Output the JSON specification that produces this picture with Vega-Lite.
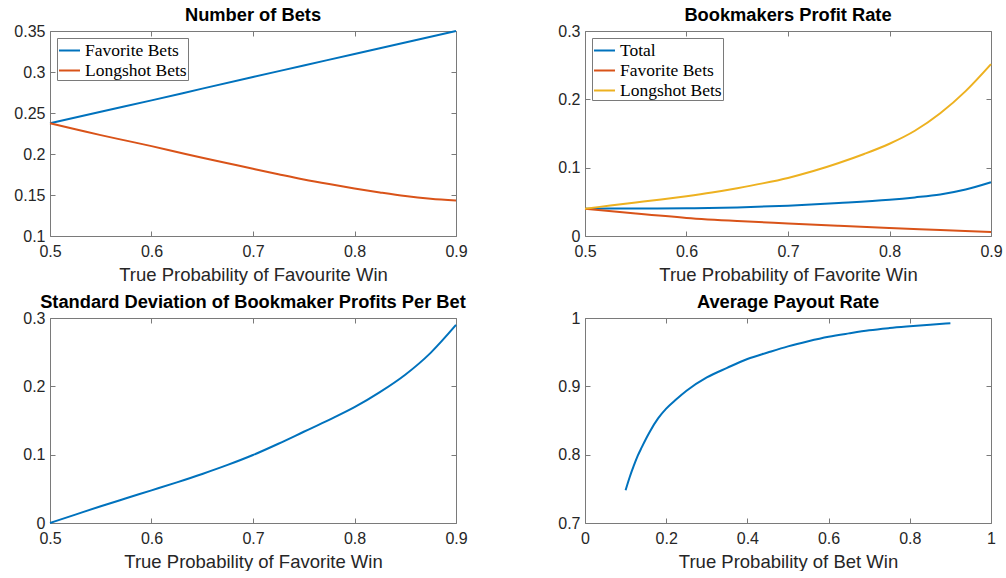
{
  "$schema": "https://vega.github.io/schema/vega-lite/v6.json",
  "padding": {"left": 13, "top": 5, "right": 0, "bottom": 0},
  "background": "white",
  "config": {
    "view": {"stroke": "#7a7a7a", "strokeWidth": 1},
    "font": "Liberation Sans",
    "axis": {
      "grid": false,
      "domain": false,
      "tickSize": -5,
      "tickColor": "#7a7a7a",
      "labelFont": "Liberation Sans",
      "labelFontSize": 16,
      "labelColor": "#262626",
      "labelFlush": false,
      "labelOverlap": false,
      "labelPadding": 10,
      "titleFont": "Liberation Sans",
      "titleFontSize": 18.5,
      "titleFontWeight": "normal",
      "titleColor": "#262626",
      "titlePadding": 6
    },
    "axisX": {"labelPadding": 12},
    "title": {"font": "Liberation Sans", "fontSize": 18.3, "fontWeight": "bold", "color": "#000000", "offset": -2},
    "legend": {
      "orient": "top-left",
      "offset": 7,
      "padding": 1,
      "strokeColor": "#7a7a7a",
      "fillColor": "white",
      "symbolType": "stroke",
      "symbolSize": 441,
      "symbolStrokeWidth": 2,
      "labelFont": "Liberation Serif",
      "labelFontSize": 17.5,
      "labelColor": "#000000",
      "labelOffset": 4,
      "rowPadding": 0,
      "title": null
    }
  },
  "datasets": {
    "bets": [
      {"p": 0.5, "value": 0.2375, "series": "Favorite Bets"},
      {"p": 0.55, "value": 0.2516, "series": "Favorite Bets"},
      {"p": 0.6, "value": 0.2654, "series": "Favorite Bets"},
      {"p": 0.65, "value": 0.2797, "series": "Favorite Bets"},
      {"p": 0.7, "value": 0.2939, "series": "Favorite Bets"},
      {"p": 0.75, "value": 0.3079, "series": "Favorite Bets"},
      {"p": 0.8, "value": 0.3220, "series": "Favorite Bets"},
      {"p": 0.85, "value": 0.3359, "series": "Favorite Bets"},
      {"p": 0.9, "value": 0.35, "series": "Favorite Bets"},
      {"p": 0.5, "value": 0.2375, "series": "Longshot Bets"},
      {"p": 0.525, "value": 0.2303, "series": "Longshot Bets"},
      {"p": 0.55, "value": 0.2230, "series": "Longshot Bets"},
      {"p": 0.575, "value": 0.2163, "series": "Longshot Bets"},
      {"p": 0.6, "value": 0.2096, "series": "Longshot Bets"},
      {"p": 0.625, "value": 0.2025, "series": "Longshot Bets"},
      {"p": 0.65, "value": 0.1954, "series": "Longshot Bets"},
      {"p": 0.675, "value": 0.1887, "series": "Longshot Bets"},
      {"p": 0.7, "value": 0.1820, "series": "Longshot Bets"},
      {"p": 0.725, "value": 0.1754, "series": "Longshot Bets"},
      {"p": 0.75, "value": 0.1690, "series": "Longshot Bets"},
      {"p": 0.775, "value": 0.1633, "series": "Longshot Bets"},
      {"p": 0.8, "value": 0.1580, "series": "Longshot Bets"},
      {"p": 0.825, "value": 0.1531, "series": "Longshot Bets"},
      {"p": 0.85, "value": 0.1487, "series": "Longshot Bets"},
      {"p": 0.875, "value": 0.1455, "series": "Longshot Bets"},
      {"p": 0.9, "value": 0.1434, "series": "Longshot Bets"}
    ],
    "profit": [
      {"p": 0.5, "value": 0.0400, "series": "Total"},
      {"p": 0.55, "value": 0.0402, "series": "Total"},
      {"p": 0.6, "value": 0.0406, "series": "Total"},
      {"p": 0.65, "value": 0.0418, "series": "Total"},
      {"p": 0.7, "value": 0.0443, "series": "Total"},
      {"p": 0.75, "value": 0.0482, "series": "Total"},
      {"p": 0.8, "value": 0.0530, "series": "Total"},
      {"p": 0.825, "value": 0.0565, "series": "Total"},
      {"p": 0.85, "value": 0.0608, "series": "Total"},
      {"p": 0.875, "value": 0.0680, "series": "Total"},
      {"p": 0.9, "value": 0.0786, "series": "Total"},
      {"p": 0.5, "value": 0.0400, "series": "Favorite Bets"},
      {"p": 0.55, "value": 0.0328, "series": "Favorite Bets"},
      {"p": 0.6, "value": 0.0265, "series": "Favorite Bets"},
      {"p": 0.65, "value": 0.0220, "series": "Favorite Bets"},
      {"p": 0.7, "value": 0.0184, "series": "Favorite Bets"},
      {"p": 0.75, "value": 0.0150, "series": "Favorite Bets"},
      {"p": 0.8, "value": 0.0118, "series": "Favorite Bets"},
      {"p": 0.85, "value": 0.0088, "series": "Favorite Bets"},
      {"p": 0.9, "value": 0.0058, "series": "Favorite Bets"},
      {"p": 0.5, "value": 0.0400, "series": "Longshot Bets"},
      {"p": 0.525, "value": 0.0445, "series": "Longshot Bets"},
      {"p": 0.55, "value": 0.0490, "series": "Longshot Bets"},
      {"p": 0.575, "value": 0.0535, "series": "Longshot Bets"},
      {"p": 0.6, "value": 0.0583, "series": "Longshot Bets"},
      {"p": 0.625, "value": 0.0637, "series": "Longshot Bets"},
      {"p": 0.65, "value": 0.0700, "series": "Longshot Bets"},
      {"p": 0.675, "value": 0.0770, "series": "Longshot Bets"},
      {"p": 0.7, "value": 0.0850, "series": "Longshot Bets"},
      {"p": 0.725, "value": 0.0950, "series": "Longshot Bets"},
      {"p": 0.75, "value": 0.1068, "series": "Longshot Bets"},
      {"p": 0.775, "value": 0.1200, "series": "Longshot Bets"},
      {"p": 0.8, "value": 0.1350, "series": "Longshot Bets"},
      {"p": 0.825, "value": 0.1540, "series": "Longshot Bets"},
      {"p": 0.85, "value": 0.1796, "series": "Longshot Bets"},
      {"p": 0.875, "value": 0.2120, "series": "Longshot Bets"},
      {"p": 0.9, "value": 0.2515, "series": "Longshot Bets"}
    ],
    "sd": [
      {"p": 0.5, "value": 0.0},
      {"p": 0.525, "value": 0.0123},
      {"p": 0.55, "value": 0.0245},
      {"p": 0.575, "value": 0.0362},
      {"p": 0.6, "value": 0.0478},
      {"p": 0.625, "value": 0.0595},
      {"p": 0.65, "value": 0.0718},
      {"p": 0.675, "value": 0.0850},
      {"p": 0.7, "value": 0.0995},
      {"p": 0.725, "value": 0.1160},
      {"p": 0.75, "value": 0.1335},
      {"p": 0.775, "value": 0.1510},
      {"p": 0.8, "value": 0.1695},
      {"p": 0.825, "value": 0.1915},
      {"p": 0.85, "value": 0.2170},
      {"p": 0.875, "value": 0.2490},
      {"p": 0.9, "value": 0.2898}
    ],
    "payout": [
      {"p": 0.1, "value": 0.748},
      {"p": 0.11, "value": 0.767},
      {"p": 0.12, "value": 0.7835},
      {"p": 0.13, "value": 0.7985},
      {"p": 0.14, "value": 0.8110},
      {"p": 0.15, "value": 0.8230},
      {"p": 0.16, "value": 0.8340},
      {"p": 0.18, "value": 0.8530},
      {"p": 0.2, "value": 0.8673},
      {"p": 0.225, "value": 0.8810},
      {"p": 0.25, "value": 0.8935},
      {"p": 0.3, "value": 0.9130},
      {"p": 0.35, "value": 0.9270},
      {"p": 0.4, "value": 0.9400},
      {"p": 0.45, "value": 0.9495},
      {"p": 0.5, "value": 0.9585},
      {"p": 0.55, "value": 0.9660},
      {"p": 0.6, "value": 0.9725},
      {"p": 0.65, "value": 0.9775},
      {"p": 0.7, "value": 0.9820},
      {"p": 0.75, "value": 0.9852},
      {"p": 0.8, "value": 0.9878},
      {"p": 0.85, "value": 0.9902},
      {"p": 0.9, "value": 0.9924}
    ]
  },
  "columns": 2,
  "bounds": "flush",
  "spacing": {"row": 82, "column": 129},
  "resolve": {"scale": {"color": "independent"}, "legend": {"color": "independent"}},
  "concat": [
    {
      "width": 406, "height": 205,
      "title": "Number of Bets",
      "data": {"name": "bets"},
      "resolve": {"axis": {"x": "independent", "y": "independent"}},
      "layer": [
        {
          "mark": {"type": "line", "strokeWidth": 2, "interpolate": "monotone"},
          "encoding": {
            "x": {"field": "p", "type": "quantitative", "scale": {"domain": [0.5, 0.9], "nice": false, "zero": false}, "axis": {"orient": "bottom", "values": [0.5, 0.6, 0.7, 0.8, 0.9], "format": "~g", "title": "True Probability of Favourite Win"}},
            "y": {"field": "value", "type": "quantitative", "scale": {"domain": [0.1, 0.35], "nice": false, "zero": false}, "axis": {"orient": "left", "values": [0.1, 0.15, 0.2, 0.25, 0.3, 0.35], "format": "~g", "title": null}},
            "color": {"field": "series", "type": "nominal", "scale": {"domain": ["Favorite Bets", "Longshot Bets"], "range": ["#0072BD", "#D95319"]}, "legend": {"orient": "top-left"}}
          }
        },
        {
          "mark": {"type": "line", "strokeOpacity": 0},
          "encoding": {
            "x": {"field": "p", "type": "quantitative", "axis": {"orient": "top", "values": [0.5, 0.6, 0.7, 0.8, 0.9], "labels": false, "title": null}},
            "y": {"field": "value", "type": "quantitative", "axis": {"orient": "right", "values": [0.1, 0.15, 0.2, 0.25, 0.3, 0.35], "labels": false, "title": null}},
            "detail": {"field": "series"}
          }
        }
      ]
    },
    {
      "width": 406, "height": 205,
      "title": "Bookmakers Profit Rate",
      "data": {"name": "profit"},
      "resolve": {"axis": {"x": "independent", "y": "independent"}},
      "layer": [
        {
          "mark": {"type": "line", "strokeWidth": 2, "interpolate": "monotone"},
          "encoding": {
            "x": {"field": "p", "type": "quantitative", "scale": {"domain": [0.5, 0.9], "nice": false, "zero": false}, "axis": {"orient": "bottom", "values": [0.5, 0.6, 0.7, 0.8, 0.9], "format": "~g", "title": "True Probability of Favorite Win"}},
            "y": {"field": "value", "type": "quantitative", "scale": {"domain": [0, 0.3], "nice": false}, "axis": {"orient": "left", "values": [0, 0.1, 0.2, 0.3], "format": "~g", "title": null}},
            "color": {"field": "series", "type": "nominal", "sort": ["Total", "Favorite Bets", "Longshot Bets"], "scale": {"domain": ["Total", "Favorite Bets", "Longshot Bets"], "range": ["#0072BD", "#D95319", "#EDB120"]}, "legend": {"orient": "top-left"}}
          }
        },
        {
          "mark": {"type": "line", "strokeOpacity": 0},
          "encoding": {
            "x": {"field": "p", "type": "quantitative", "axis": {"orient": "top", "values": [0.5, 0.6, 0.7, 0.8, 0.9], "labels": false, "title": null}},
            "y": {"field": "value", "type": "quantitative", "axis": {"orient": "right", "values": [0, 0.1, 0.2, 0.3], "labels": false, "title": null}},
            "detail": {"field": "series"}
          }
        }
      ]
    },
    {
      "width": 406, "height": 205,
      "title": "Standard Deviation of Bookmaker Profits Per Bet",
      "data": {"name": "sd"},
      "resolve": {"axis": {"x": "independent", "y": "independent"}},
      "layer": [
        {
          "mark": {"type": "line", "strokeWidth": 2, "interpolate": "monotone", "color": "#0072BD"},
          "encoding": {
            "x": {"field": "p", "type": "quantitative", "scale": {"domain": [0.5, 0.9], "nice": false, "zero": false}, "axis": {"orient": "bottom", "values": [0.5, 0.6, 0.7, 0.8, 0.9], "format": "~g", "title": "True Probability of Favorite Win"}},
            "y": {"field": "value", "type": "quantitative", "scale": {"domain": [0, 0.3], "nice": false}, "axis": {"orient": "left", "values": [0, 0.1, 0.2, 0.3], "format": "~g", "title": null}}
          }
        },
        {
          "mark": {"type": "line", "strokeOpacity": 0},
          "encoding": {
            "x": {"field": "p", "type": "quantitative", "axis": {"orient": "top", "values": [0.5, 0.6, 0.7, 0.8, 0.9], "labels": false, "title": null}},
            "y": {"field": "value", "type": "quantitative", "axis": {"orient": "right", "values": [0, 0.1, 0.2, 0.3], "labels": false, "title": null}}
          }
        }
      ]
    },
    {
      "width": 406, "height": 205,
      "title": "Average Payout Rate",
      "data": {"name": "payout"},
      "resolve": {"axis": {"x": "independent", "y": "independent"}},
      "layer": [
        {
          "mark": {"type": "line", "strokeWidth": 2, "interpolate": "monotone", "color": "#0072BD"},
          "encoding": {
            "x": {"field": "p", "type": "quantitative", "scale": {"domain": [0, 1], "nice": false}, "axis": {"orient": "bottom", "values": [0, 0.2, 0.4, 0.6, 0.8, 1], "format": "~g", "title": "True Probability of Bet Win"}},
            "y": {"field": "value", "type": "quantitative", "scale": {"domain": [0.7, 1], "nice": false, "zero": false}, "axis": {"orient": "left", "values": [0.7, 0.8, 0.9, 1], "format": "~g", "title": null}}
          }
        },
        {
          "mark": {"type": "line", "strokeOpacity": 0},
          "encoding": {
            "x": {"field": "p", "type": "quantitative", "axis": {"orient": "top", "values": [0, 0.2, 0.4, 0.6, 0.8, 1], "labels": false, "title": null}},
            "y": {"field": "value", "type": "quantitative", "axis": {"orient": "right", "values": [0.7, 0.8, 0.9, 1], "labels": false, "title": null}}
          }
        }
      ]
    }
  ]
}
